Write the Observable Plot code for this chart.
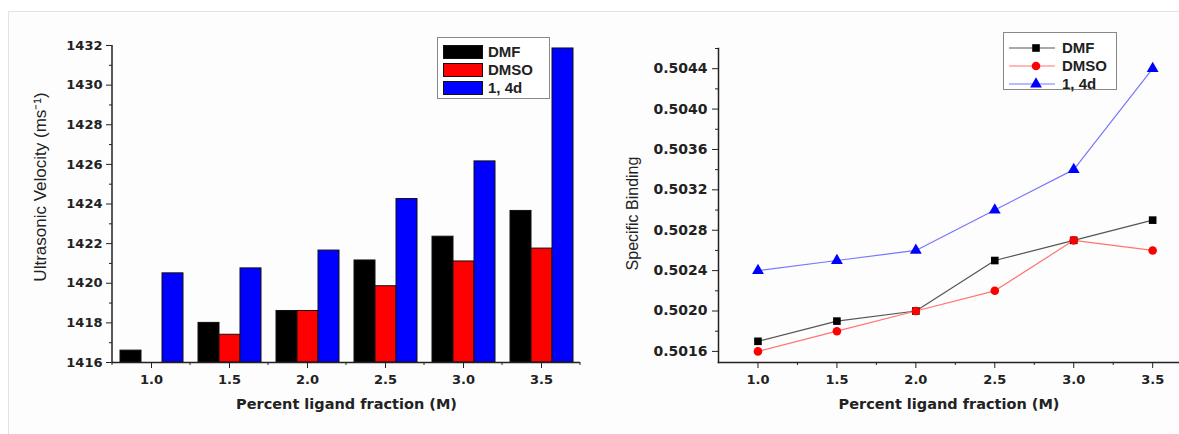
<!DOCTYPE html>
<html><head><meta charset="utf-8">
<script src="https://cdn.jsdelivr.net/npm/d3@7"></script>
<script src="https://cdn.jsdelivr.net/npm/@observablehq/plot@0.6"></script>
<style>
body{margin:0;width:1179px;height:434px;overflow:hidden;background:#fff;font-family:"Liberation Sans",Arial,sans-serif;}
#frame{position:absolute;left:8px;top:11px;width:1180px;height:430px;border-left:1px solid #e4e4e4;border-top:1px solid #e4e4e4;background:#fdfdfd;}
#left{position:absolute;left:0;top:0;}
#right{position:absolute;left:600px;top:0;}
svg text{font-weight:bold;fill:#222;}
g[aria-label="y-axis label"] text{font-weight:normal;font-family:"Liberation Sans",Arial,sans-serif;font-size:16px;}
#left g[aria-label="y-axis label"] text{font-size:17px;translate:0 -17px;}
#right g[aria-label="y-axis label"] text{translate:0 8px;}
g[aria-label="fx-axis label"] text, g[aria-label="x-axis label"] text{font-size:14.5px;}
.legend{position:absolute;border:1.5px solid #888;background:#fff;font-weight:bold;font-size:15px;color:#222;}
.legend .row{position:absolute;left:0;height:18px;line-height:18px;white-space:nowrap;}
</style></head><body>
<div id="frame"></div>
<div id="left"></div><div id="right"></div>
<script>
// ---- data ----
const conc = [1.0, 1.5, 2.0, 2.5, 3.0, 3.5];
const seriesNames = ["DMF", "DMSO", "1, 4d"];
// Ultrasonic velocity (m/s)
const velDMF  = [1416.6, 1418.0, 1418.6, 1421.15, 1422.35, 1423.65];
const velDMSO = [null,   1417.4, 1418.6, 1419.85, 1421.1,  1421.75];
const vel14d  = [1420.5, 1420.75, 1421.65, 1424.25, 1426.15, 1431.85];
const velBase = 1416;
const velTicks = [1416, 1418, 1420, 1422, 1424, 1426, 1428, 1430, 1432];
const velMinor = [1417, 1419, 1421, 1423, 1425, 1427, 1429, 1431];
// Specific binding
const sbDMF  = [0.5017, 0.5019, 0.5020, 0.5025, 0.5027, 0.5029];
const sbDMSO = [0.5016, 0.5018, 0.5020, 0.5022, 0.5027, 0.5026];
const sb14d  = [0.5024, 0.5025, 0.5026, 0.5030, 0.5034, 0.5044];
const sbTicks = [0.5016, 0.5020, 0.5024, 0.5028, 0.5032, 0.5036, 0.5040, 0.5044];
const sbMinor = [0.5018, 0.5022, 0.5026, 0.5030, 0.5034, 0.5038, 0.5042, 0.5046];
const concMinor = [1.25, 1.75, 2.25, 2.75, 3.25];

const barColors = ["#000000", "#ff0000", "#0000ff"];
const lineColors = ["#555555", "#ff7474", "#7676ff"];
const dotColors = ["#000000", "#ff0000", "#0000ff"];
const symbols = ["square", "circle", "triangle"];
const font = "DejaVu Sans, Liberation Sans, Arial, sans-serif";

// ---- left: bar chart ----
const velSeries = [velDMF, velDMSO, vel14d];
const velRows = conc.flatMap((c, i) => seriesNames.map((s, j) => ({conc: c, series: s, v: velSeries[j][i]})))
  .filter(d => d.v != null);

const L = {w: 600, h: 434, ml: 112, mr: 20, mt: 45, mb: 72};
const left = Plot.plot({
  width: L.w, height: L.h,
  marginLeft: L.ml, marginRight: L.mr, marginTop: L.mt, marginBottom: L.mb,
  style: {background: "transparent", fontFamily: font, fontSize: "13px", color: "#222"},
  fx: {domain: conc, padding: 0},
  x: {domain: seriesNames, paddingInner: 0, paddingOuter: 0.33, axis: null},
  y: {domain: [velBase, 1432]},
  color: {domain: seriesNames, range: barColors},
  marks: [
    Plot.barY(velRows, {fx: "conc", x: "series", y1: () => velBase, y2: "v", fill: "series", stroke: "#111", strokeWidth: 1}),
    Plot.ruleY([velBase], {stroke: "#222", strokeWidth: 1.5}),
    Plot.axisY({ticks: velTicks, tickSize: 6, tickPadding: 4, tickFormat: "d", fontSize: 13,
      label: "Ultrasonic Velocity (ms⁻¹)", labelAnchor: "center", labelOffset: 79, labelArrow: false, stroke: "#222"}),
    Plot.axisY({ticks: velMinor, tickSize: 3, tickFormat: () => "", label: null, stroke: "#222"}),
    Plot.axisFx({anchor: "bottom", tickSize: 6, tickPadding: 6, tickFormat: d => d.toFixed(1), fontSize: 13,
      label: "Percent ligand fraction (M)", labelAnchor: "center", labelOffset: 46, labelArrow: false, stroke: "#222"})
  ]
});
document.getElementById("left").appendChild(left);
{
  const svg = d3.select(left);
  const fxs = left.scale("fx");
  svg.append("line").attr("x1", L.ml).attr("x2", L.ml).attr("y1", L.mt).attr("y2", L.h - L.mb)
    .attr("stroke", "#222").attr("stroke-width", 1.5);
  for (let i = 0; i <= conc.length; i++) {
    const x = fxs.range[0] + i * fxs.step;
    svg.append("line").attr("x1", x).attr("x2", x).attr("y1", L.h - L.mb).attr("y2", L.h - L.mb + 3)
      .attr("stroke", "#222");
  }
}

// ---- right: line chart ----
const sbSeries = [sbDMF, sbDMSO, sb14d];
const R = {w: 579, h: 434, ml: 118, mr: 0, mt: 48, mb: 72};
const right = Plot.plot({
  width: R.w, height: R.h,
  marginLeft: R.ml, marginRight: R.mr, marginTop: R.mt, marginBottom: R.mb,
  style: {background: "transparent", fontFamily: font, fontSize: "13px", color: "#222"},
  x: {domain: [0.75, 3.67]},
  y: {domain: [0.50149, 0.50460]},
  marks: [
    Plot.frame({anchor: "left", stroke: "#222", strokeWidth: 1.5}),
    Plot.frame({anchor: "bottom", stroke: "#222", strokeWidth: 1.5}),
    Plot.axisY({ticks: sbTicks, tickSize: 6, tickPadding: 5, tickFormat: ".4f", fontSize: 14,
      label: "Specific Binding", labelAnchor: "center", labelOffset: 92, labelArrow: false, stroke: "#222"}),
    Plot.axisY({ticks: sbMinor, tickSize: 3, tickFormat: () => "", label: null, stroke: "#222"}),
    Plot.axisX({ticks: conc, tickSize: 6, tickPadding: 6, tickFormat: ".1f", fontSize: 13,
      label: "Percent ligand fraction (M)", labelAnchor: "center", labelOffset: 46, labelArrow: false, stroke: "#222"}),
    Plot.axisX({ticks: concMinor, tickSize: 3, tickFormat: () => "", label: null, stroke: "#222"}),
    ...sbSeries.map((vals, j) => Plot.line(conc.map((c, i) => ({x: c, y: vals[i]})),
      {x: "x", y: "y", stroke: lineColors[j], strokeWidth: 1.2})),
    ...sbSeries.map((vals, j) => Plot.dot(conc.map((c, i) => ({x: c, y: vals[i]})),
      {x: "x", y: "y", fill: dotColors[j], stroke: "none", symbol: symbols[j], r: j === 2 ? 4.4 : 4.3}))
  ]
});
document.getElementById("right").appendChild(right);

// ---- legends (HTML) ----
function barLegend() {
  const box = document.createElement("div");
  box.className = "legend";
  Object.assign(box.style, {left: "437px", top: "37px", width: "111px", height: "60px"});
  seriesNames.forEach((s, j) => {
    const row = document.createElement("div");
    row.className = "row";
    row.style.top = (4 + j * 18) + "px";
    row.innerHTML = `<span style="display:inline-block;vertical-align:middle;width:40px;height:14px;margin:0 5px 0 5px;background:${barColors[j]};border:1px solid #111;box-sizing:border-box"></span><span style="vertical-align:middle">${s}</span>`;
    box.appendChild(row);
  });
  document.body.appendChild(box);
}
function lineLegend() {
  const box = document.createElement("div");
  box.className = "legend";
  Object.assign(box.style, {left: "1003px", top: "32px", width: "112px", height: "56px"});
  seriesNames.forEach((s, j) => {
    const row = document.createElement("div");
    row.className = "row";
    row.style.top = (5 + j * 18) + "px";
    const sym = d3.symbol(j === 0 ? d3.symbolSquare : j === 1 ? d3.symbolCircle : d3.symbolTriangle, j === 2 ? 60 : 58)();
    row.innerHTML = `<svg width="50" height="18" style="vertical-align:middle;margin-left:4px"><line x1="1" x2="47" y1="9" y2="9" stroke="${lineColors[j]}" stroke-width="1.2"/><path d="${sym}" transform="translate(28,9)" fill="${dotColors[j]}"/></svg><span style="vertical-align:middle;margin-left:4px">${s}</span>`;
    box.appendChild(row);
  });
  document.body.appendChild(box);
}
barLegend();
lineLegend();
</script>
</body></html>
